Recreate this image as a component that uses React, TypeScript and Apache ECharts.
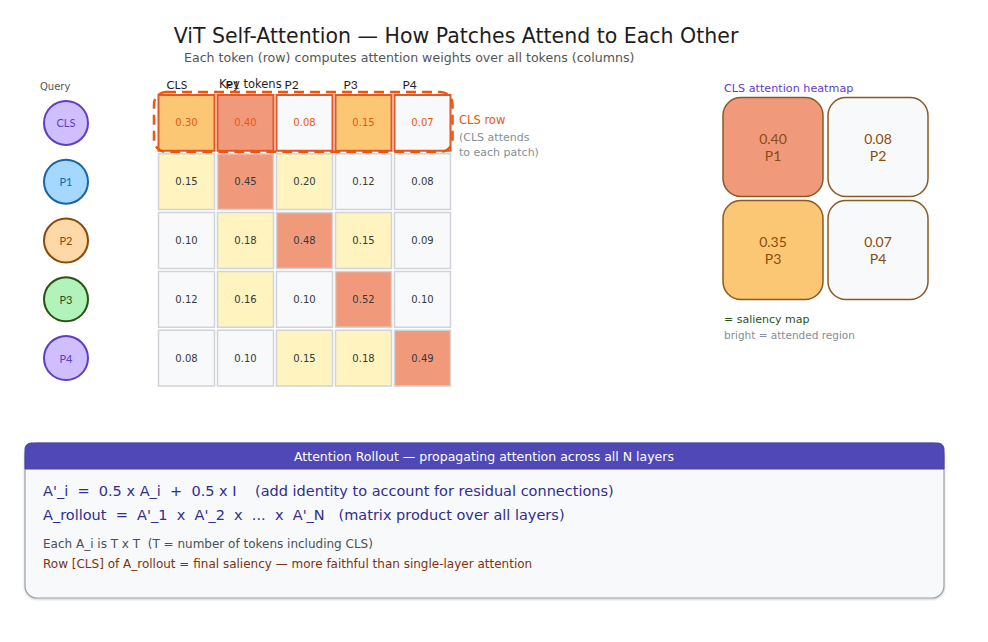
import React, { useEffect, useRef } from "react";
import * as echarts from "echarts";

const tokens = ["CLS", "P1", "P2", "P3", "P4"];
const attention = [
  [0.30, 0.40, 0.08, 0.15, 0.07],
  [0.15, 0.45, 0.20, 0.12, 0.08],
  [0.10, 0.18, 0.48, 0.15, 0.09],
  [0.12, 0.16, 0.10, 0.52, 0.10],
  [0.08, 0.10, 0.15, 0.18, 0.49],
];
const heatCols = ["a", "b"];
const heatRows = ["top", "bottom"];
const clsPatches = ["P1", "P2", "P3", "P4"];
const clsValues = [0.40, 0.08, 0.35, 0.07];

const FONT = "Lato, 'Open Sans', sans-serif";
const WIDE = "'DejaVu Sans', sans-serif";
const SALMON = "#f09a7b";
const ORANGE = "#fbc774";
const YELLOW = "#fff3bf";
const WHITE = "#f8f9fa";
const RED = "#e8590c";

const circleStyles: Record<string, { fill: string; stroke: string }> = {
  CLS: { fill: "#d0bfff", stroke: "#5f3dc4" },
  P1: { fill: "#a5d8ff", stroke: "#1864ab" },
  P2: { fill: "#ffd8a8", stroke: "#8a4b0a" },
  P3: { fill: "#b2f2bb", stroke: "#2b5216" },
  P4: { fill: "#d0bfff", stroke: "#5f3dc4" },
};

function cellFill(row: number, v: number) {
  if (v >= 0.4) return SALMON;
  if (v >= 0.15) return row === 0 ? ORANGE : YELLOW;
  return WHITE;
}

export default function App() {
  const ref = useRef<HTMLDivElement>(null);
  useEffect(() => {
    if (!ref.current) return;
    const chart = echarts.init(ref.current, null, { renderer: "svg" });

    const matrixData: number[][] = [];
    attention.forEach((row, r) => row.forEach((v, c) => matrixData.push([c, r, v])));

    const heatData = clsValues.map((v, i) => [i % 2, Math.floor(i / 2), v, i]);

    const rich: Record<string, any> = {};
    tokens.forEach((t) => {
      rich[t] = {
        width: 42,
        height: 42,
        lineHeight: 42,
        align: "center",
        backgroundColor: circleStyles[t].fill,
        borderColor: circleStyles[t].stroke,
        borderWidth: 2,
        borderRadius: 23,
        color: circleStyles[t].stroke,
        fontSize: 11,
        fontFamily: FONT,
      };
    });

    const txt = (text: string, x: number, y: number, fill: string, fontSize: number, fontFamily = WIDE, align = "left") => ({
      type: "text",
      style: { text, x, y, align, verticalAlign: "middle", fill, fontSize, fontFamily },
    });

    const option: any = {
      animation: false,
      backgroundColor: "#ffffff",
      grid: [
        { left: 157, top: 93.5, width: 295, height: 294 },
        { left: 720.5, top: 95.5, width: 210, height: 206 },
      ],
      xAxis: [
        {
          type: "category",
          data: tokens,
          gridIndex: 0,
          position: "top",
          axisLine: { show: false },
          axisTick: { show: false },
          splitLine: { show: false },
          axisLabel: {
            margin: 3,
            formatter: (v: string) => `{k|${v}}`,
            rich: { k: { width: 40, align: "left", fontSize: 12, color: "#1e1e1e", fontFamily: FONT } },
          },
        },
        { type: "category", data: heatCols, gridIndex: 1, show: false },
      ],
      yAxis: [
        {
          type: "category",
          data: tokens,
          gridIndex: 0,
          inverse: true,
          axisLine: { show: false },
          axisTick: { show: false },
          splitLine: { show: false },
          axisLabel: {
            margin: 70,
            formatter: (v: string) => `{${v}|${v}}`,
            rich,
          },
        },
        { type: "category", data: heatRows, gridIndex: 1, inverse: true, show: false },
      ],
      series: [
        {
          type: "custom",
          name: "attention",
          xAxisIndex: 0,
          yAxisIndex: 0,
          data: matrixData,
          renderItem: (params: any, api: any) => {
            const c = api.value(0);
            const r = api.value(1);
            const v = api.value(2);
            const p = api.coord([c, r]);
            const s = api.size([1, 1]);
            const w = s[0] - 3;
            const h = s[1] - 3;
            const cls = r === 0;
            return {
              type: "group",
              children: [
                {
                  type: "rect",
                  shape: { x: p[0] - w / 2, y: p[1] - h / 2, width: w, height: h },
                  style: {
                    fill: cellFill(r, v),
                    stroke: cls ? "#e0582a" : "#d0d4d8",
                    lineWidth: cls ? 2 : 1.5,
                  },
                },
                {
                  type: "text",
                  style: {
                    text: v.toFixed(2),
                    x: p[0],
                    y: p[1],
                    align: "center",
                    verticalAlign: "middle",
                    fill: cls ? RED : "#343a40",
                    fontSize: 10,
                    fontFamily: WIDE,
                  },
                },
              ],
            };
          },
        },
        {
          type: "custom",
          name: "clsHighlight",
          xAxisIndex: 0,
          yAxisIndex: 0,
          data: [[0, 0]],
          silent: true,
          renderItem: (params: any, api: any) => {
            const a = api.coord([0, 0]);
            const b = api.coord([tokens.length - 1, 0]);
            const s = api.size([1, 1]);
            const x0 = a[0] - s[0] / 2 - 3;
            const x1 = b[0] + s[0] / 2 + 0.5;
            const y0 = a[1] - s[1] / 2 - 1.5;
            const h = s[1] + 1;
            return {
              type: "rect",
              shape: { x: x0, y: y0, width: x1 - x0, height: h, r: 12 },
              style: { fill: "none", stroke: RED, lineWidth: 2.5, lineDash: [10, 6] },
            };
          },
        },
        {
          type: "custom",
          name: "clsHeatmap",
          xAxisIndex: 1,
          yAxisIndex: 1,
          data: heatData,
          renderItem: (params: any, api: any) => {
            const v = api.value(2);
            const i = api.value(3);
            const p = api.coord([api.value(0), api.value(1)]);
            const s = api.size([1, 1]);
            const w = s[0] - 5;
            const h = s[1] - 4;
            const fill = v >= 0.4 ? SALMON : v >= 0.15 ? ORANGE : WHITE;
            return {
              type: "group",
              children: [
                {
                  type: "rect",
                  shape: { x: p[0] - w / 2, y: p[1] - h / 2, width: w, height: h, r: 18 },
                  style: { fill, stroke: "#8a5a22", lineWidth: 1.5 },
                },
                {
                  type: "text",
                  style: {
                    text: `${v.toFixed(2)}\n${clsPatches[i]}`,
                    x: p[0],
                    y: p[1],
                    align: "center",
                    verticalAlign: "middle",
                    fill: "#8a4b10",
                    fontSize: 14,
                    lineHeight: 17,
                    fontFamily: FONT,
                  },
                },
              ],
            };
          },
        },
      ],
      graphic: [
        txt("ViT Self-Attention — How Patches Attend to Each Other", 456, 36, "#1e1e1e", 20.5, WIDE, "center"),
        txt("Each token (row) computes attention weights over all tokens (columns)", 184, 57, "#555555", 12.6),
        txt("Query", 40, 86, "#555555", 10),
        txt("Key tokens", 219, 84, "#1e1e1e", 11.5),
        txt("CLS row", 459, 120, RED, 11.5),
        txt("(CLS attends", 459, 137, "#868e96", 11),
        txt("to each patch)", 459, 152, "#868e96", 11),
        txt("CLS attention heatmap", 724, 88, "#5f3dc4", 11.2),
        txt("= saliency map", 724, 319, "#2b5216", 11),
        txt("bright = attended region", 724, 335, "#868e96", 10.5),
        {
          type: "rect",
          shape: { x: 25, y: 443, width: 919, height: 155, r: 12 },
          style: { fill: "#f8f9fa", stroke: "#9aa0a6", lineWidth: 1.2, shadowBlur: 2, shadowOffsetY: 1, shadowColor: "rgba(0,0,0,0.2)" },
        },
        {
          type: "rect",
          shape: { x: 25, y: 443, width: 919, height: 26, r: [6, 6, 0, 0] },
          style: { fill: "#5048b6", stroke: "#4a42a8", lineWidth: 1 },
        },
        txt("Attention Rollout — propagating attention across all N layers", 484, 456, "#ffffff", 12.5, WIDE, "center"),
        txt("A'_i  =  0.5 x A_i  +  0.5 x I    (add identity to account for residual connections)", 43, 491, "#2f2e8f", 14.5),
        txt("A_rollout  =  A'_1  x  A'_2  x  ...  x  A'_N   (matrix product over all layers)", 43, 515, "#2f2e8f", 14.5),
        txt("Each A_i is T x T  (T = number of tokens including CLS)", 43, 544, "#495057", 12),
        txt("Row [CLS] of A_rollout = final saliency — more faithful than single-layer attention", 43, 564, "#7a3410", 12),
      ],
    };
    chart.setOption(option);
    return () => chart.dispose();
  }, []);
  return (
    <div
      ref={ref}
      style={{ position: "fixed", left: 0, top: 0, width: 988, height: 642, background: "#fff" }}
    />
  );
}
